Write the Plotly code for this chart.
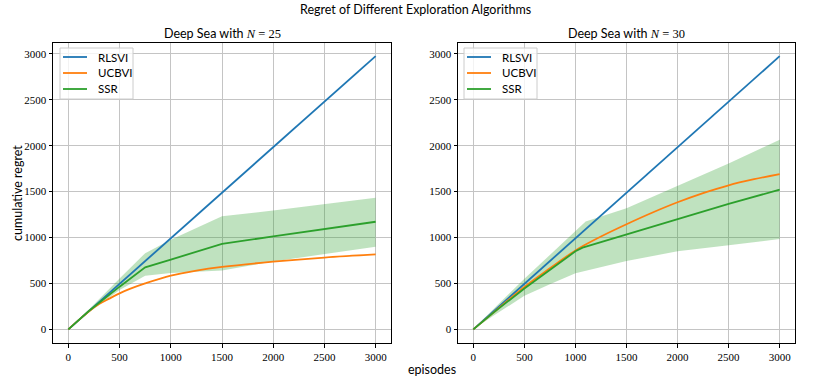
import plotly.graph_objects as go

W, H = 830, 379

BLUE = "#1f77b4"
ORANGE = "#ff7f0e"
GREEN = "#2ca02c"
SANS = "Lato"
SERIF = "Liberation Serif"

# =========================================================
# DATA
# =========================================================

rlsvi_ep = [0, 500, 1000, 1500, 2000, 2500, 3000]
rlsvi = [0, 495, 993, 1490, 1985, 2480, 2975]

# --- N = 25 ---
ucbvi25_ep = [0, 100, 200, 300, 400, 500, 600, 750, 1000, 1250, 1500, 2000, 2500, 3000]
ucbvi25 = [0, 100, 195, 275, 335, 392, 440, 500, 585, 640, 680, 737, 782, 816]

ssr25_ep = [0, 200, 500, 750, 1000, 1500, 2000, 2500, 3000]
ssr25 = [0, 200, 465, 675, 760, 930, 1012, 1092, 1172]
ssr25_hi = [0, 215, 555, 830, 975, 1232, 1294, 1363, 1432]
ssr25_lo = [0, 185, 430, 585, 615, 640, 740, 822, 900]

# --- N = 30 ---
ucbvi30_ep = [0, 200, 500, 750, 1000, 1100, 1250, 1500, 1750, 2000, 2250, 2500, 2750, 3000]
ucbvi30 = [0, 185, 462, 665, 860, 925, 1012, 1145, 1270, 1384, 1484, 1569, 1635, 1691]

ssr30_ep = [0, 200, 500, 750, 1000, 1070, 1500, 2000, 2500, 3000]
ssr30 = [0, 185, 445, 650, 850, 890, 1035, 1203, 1366, 1522]
ssr30_band_ep = [0, 200, 500, 750, 1000, 1100, 1500, 2000, 2500, 3000]
ssr30_hi = [0, 225, 550, 815, 1080, 1175, 1320, 1560, 1805, 2065]
ssr30_lo = [0, 150, 365, 490, 610, 640, 745, 850, 915, 985]

tick_vals = [0, 500, 1000, 1500, 2000, 2500, 3000]
legend_names = ["RLSVI", "UCBVI", "SSR"]

# =========================================================
# FIGURE
# =========================================================

fig = go.Figure()


def add_panel(xa, ya, ucb_ep, ucb, ssr_ep, ssr, band_ep, hi, lo):
    fig.add_trace(go.Scatter(
        x=band_ep + band_ep[::-1], y=hi + lo[::-1], fill="toself",
        fillcolor="rgba(44,160,44,0.3)", line=dict(width=0), mode="lines",
        xaxis=xa, yaxis=ya, showlegend=False, hoverinfo="skip"))
    fig.add_trace(go.Scatter(x=rlsvi_ep, y=rlsvi, mode="lines", line=dict(color=BLUE, width=1.8),
                             xaxis=xa, yaxis=ya, showlegend=False))
    fig.add_trace(go.Scatter(x=ucb_ep, y=ucb, mode="lines", line=dict(color=ORANGE, width=1.8),
                             line_shape="spline", xaxis=xa, yaxis=ya, showlegend=False))
    fig.add_trace(go.Scatter(x=ssr_ep, y=ssr, mode="lines", line=dict(color=GREEN, width=1.8),
                             xaxis=xa, yaxis=ya, showlegend=False))


add_panel("x", "y", ucbvi25_ep, ucbvi25, ssr25_ep, ssr25, ssr25_ep, ssr25_hi, ssr25_lo)
add_panel("x2", "y2", ucbvi30_ep, ucbvi30, ssr30_ep, ssr30, ssr30_band_ep, ssr30_hi, ssr30_lo)

axis_style = dict(
    showline=True, mirror=True, linecolor="black", linewidth=1,
    showgrid=True, gridcolor="#c4c4c4", gridwidth=1, zeroline=False,
    ticks="outside", ticklen=3.5, tickwidth=1, tickcolor="black",
    tickvals=tick_vals, tickfont=dict(family=SERIF, size=11, color="black"),
    automargin=False,
)

ydom = [1 - 343 / H, 1 - 43 / H]
fig.update_layout(
    width=W, height=H,
    margin=dict(l=0, r=0, t=0, b=0),
    plot_bgcolor="white", paper_bgcolor="white",
    xaxis=dict(domain=[53 / W, 391 / W], range=[-150, 3150], anchor="y", **axis_style),
    yaxis=dict(domain=ydom, range=[-148.5, 3118.5], anchor="x", **axis_style),
    xaxis2=dict(domain=[458 / W, 795 / W], range=[-150, 3150], anchor="y2", **axis_style),
    yaxis2=dict(domain=ydom, range=[-148.5, 3118.5], anchor="x2", **axis_style),
)

# titles
ann = [
    dict(text="Regret of Different Exploration Algorithms", x=415 / W, y=1 - 9 / H),
    dict(text="Deep Sea with <span style='font-family:Liberation Serif'><i>N</i> = 25</span>",
         x=222 / W, y=1 - 33 / H),
    dict(text="Deep Sea with <span style='font-family:Liberation Serif'><i>N</i> = 30</span>",
         x=626 / W, y=1 - 33 / H),
    dict(text="episodes", x=432 / W, y=1 - 369 / H),
    dict(text="cumulative regret", x=17 / W, y=1 - 193 / H, textangle=-90),
]
for a in ann:
    fig.add_annotation(xref="paper", yref="paper", showarrow=False,
                       xanchor="center", yanchor="middle",
                       font=dict(family=SANS, size=12.5, color="black"), **a)

# legends drawn by hand to match matplotlib's compact style
for off in (0, 404):
    fig.add_shape(type="rect", xref="paper", yref="paper", layer="above",
                  x0=(60 + off) / W, x1=(133 + off) / W, y0=1 - 99 / H, y1=1 - 48 / H,
                  fillcolor="rgba(255,255,255,0.8)", line=dict(color="#cccccc", width=1))
    for i, (name, col) in enumerate(zip(legend_names, [BLUE, ORANGE, GREEN])):
        yy = 1 - (57 + 16 * i) / H
        fig.add_shape(type="line", xref="paper", yref="paper", layer="above",
                      x0=(63 + off) / W, x1=(87 + off) / W, y0=yy, y1=yy,
                      line=dict(color=col, width=1.8))
        fig.add_annotation(xref="paper", yref="paper", showarrow=False, text=name,
                           x=(96 + off) / W, y=yy, xanchor="left", yanchor="middle",
                           font=dict(family=SANS, size=11.5, color="black"))

# drop the browser's default 8px body margin so the page lines up with the window
fig.write_html("out.html", config={"displayModeBar": False},
               post_script="document.body.style.margin='0';")
